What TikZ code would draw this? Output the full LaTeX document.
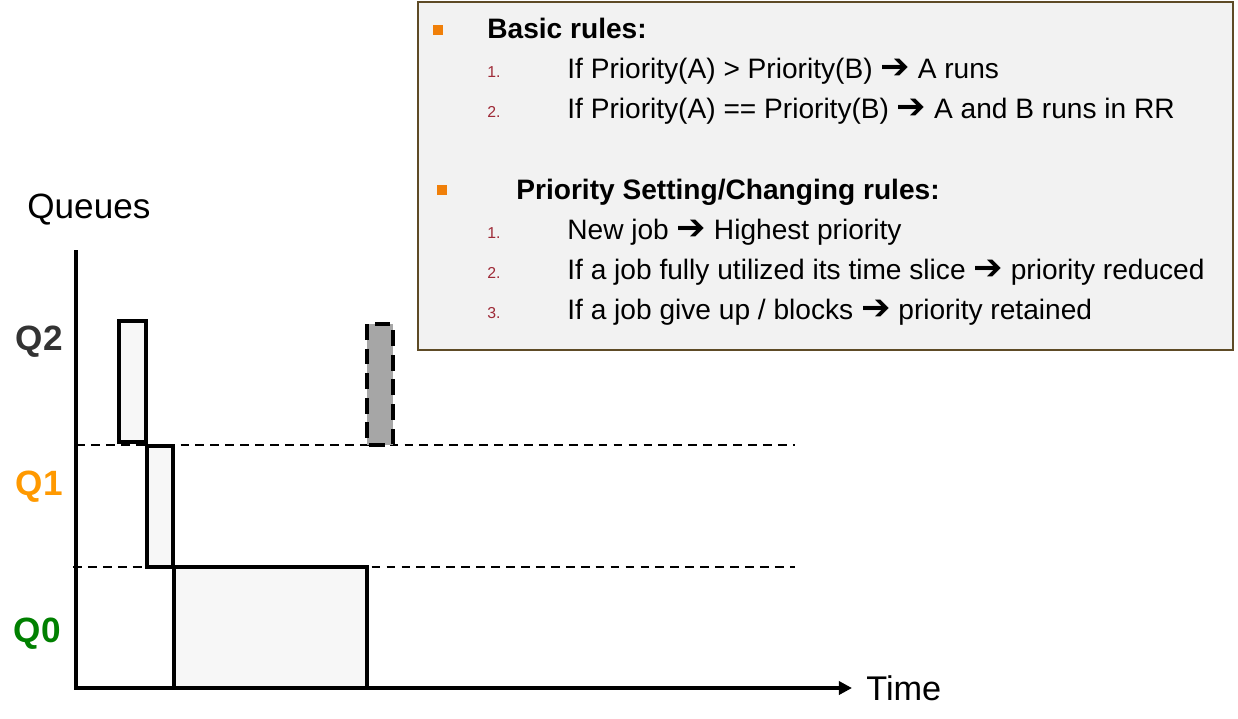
\documentclass[tikz,border=0pt]{standalone}
\usepackage{fontspec}
\setmainfont{Liberation Sans}
\newfontfamily\symfont{DejaVu Sans}
\usetikzlibrary{arrows.meta,positioning}
\definecolor{boxfill}{HTML}{F2F2F2}
\definecolor{boxline}{HTML}{5E4B26}
\definecolor{bulletc}{HTML}{F07F09}
\definecolor{numc}{HTML}{9E2A37}
\definecolor{qtwo}{HTML}{333333}
\definecolor{qone}{HTML}{FF9900}
\definecolor{qzero}{HTML}{008000}
\definecolor{jobfill}{HTML}{F7F7F7}
\definecolor{waitfill}{HTML}{A6A6A6}
\newcommand{\heavyarrow}{{\symfont\fontsize{20}{20}\selectfont ➔}}

\begin{document}
\begin{tikzpicture}[x=0.02cm,y=-0.02cm,
	every node/.style={inner sep=0pt},
	head/.style={anchor=base west,font=\fontsize{16}{18}\selectfont\bfseries},
	item/.style={anchor=base west,font=\fontsize{16}{18}\selectfont},
	num/.style={anchor=base west,text=numc,font=\fontsize{9}{10}\selectfont},
	bullet/.style={fill=bulletc,minimum width=5.8pt,minimum height=5.8pt},
	qlabel/.style={anchor=base east,font=\fontsize{20}{22}\selectfont\bfseries},
	job/.style={draw=black,line width=2pt,fill=jobfill},
	level/.style={line width=1.1pt,dash pattern=on 5pt off 3.5pt}]
	\useasboundingbox (0,0) rectangle (1238,718);

	% rules panel
	\draw[draw=boxline,fill=boxfill,line width=1.1pt] (418,2) rectangle (1233,350);
	\node[bullet] (bul1) at (438,30) {};
	\node[head] (basic) at (487,38) {Basic rules:};
	\node[num] (n11) at (487,77) {1.};
	\node[item] (r11) at (567,78) {If Priority(A) > Priority(B) \heavyarrow{} A runs};
	\node[num] (n12) at (487,117) {2.};
	\node[item] (r12) at (567,118) {If Priority(A) == Priority(B) \heavyarrow{} A and B runs in RR};

	\node[bullet] (bul2) at (442,190) {};
	\node[head] (setting) at (516,199) {Priority Setting/Changing rules:};
	\foreach \n/\y/\t in {1/239/{New job \heavyarrow{} Highest priority},
		2/279/{If a job fully utilized its time slice \heavyarrow{} priority reduced},
		3/319/{If a job give up / blocks \heavyarrow{} priority retained}}
	{
		\node[num] (n2\n) at (487,\y-1) {\n.};
		\node[item] (r2\n) at (567,\y) {\t};
	}

	% queue levels
	\draw[level] (76,445) -- (795,445);
	\draw[level] (73,567) -- (795,567);

	% jobs
	\draw[job] (119,321) rectangle (146,442);
	\draw[job] (147,446) rectangle (173,567);
	\draw[job] (174,567) rectangle (367,688);
	\draw[fill=waitfill,draw=black,line width=2.2pt,dash pattern=on 9pt off 5pt] (367,324) rectangle (393,445);

	% axes
	\coordinate (ytop) at (76,250);
	\coordinate (origin) at (76,688);
	\coordinate (xend) at (852,688);
	\draw[line width=2.3pt,-{Triangle[length=7.5pt,width=7.5pt]}] (ytop) -- (origin) -- (xend);
	\node[anchor=base west,font=\fontsize{20}{22}\selectfont] (queues) at (27,218) {Queues};
	\node[anchor=base west,font=\fontsize{19.5}{22}\selectfont] (time) at (866,700) {Time};

	\node[qlabel,text=qtwo] (q2) at (63,350) {Q2};
	\node[qlabel,text=qone] (q1) at (63,495) {Q1};
	\node[qlabel,text=qzero] (q0) at (61,642) {Q0};
\end{tikzpicture}
\end{document}
